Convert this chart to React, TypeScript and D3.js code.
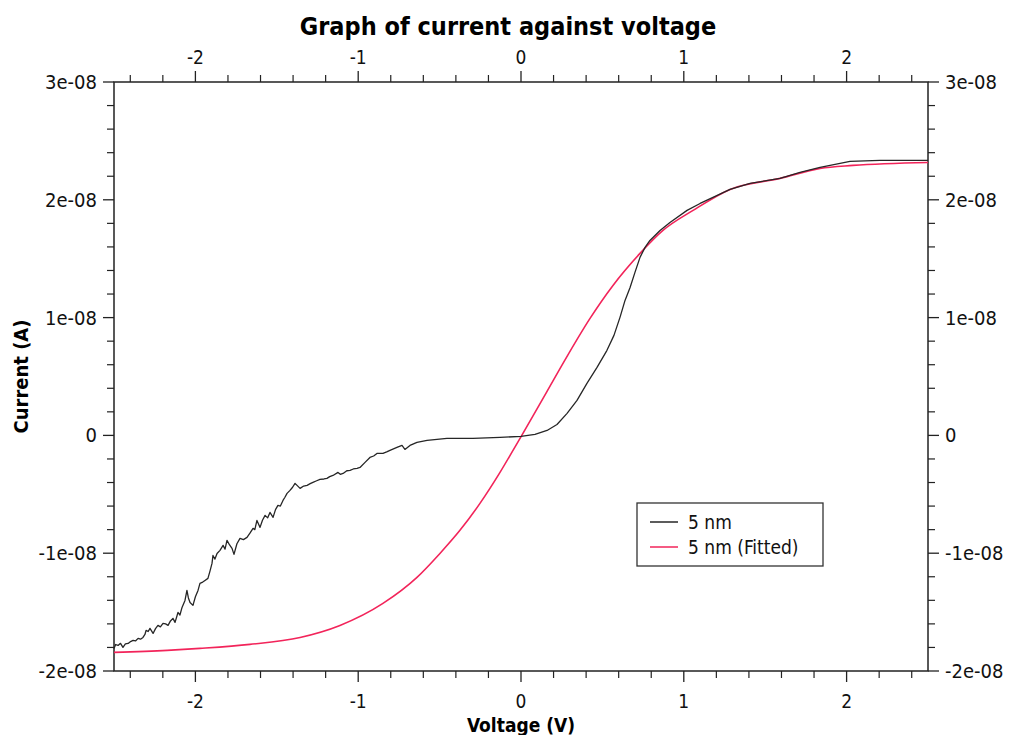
import React from 'react';
import * as d3 from 'd3';

// measured I-V sweep (current in units of 1e-8 A)
const measuredV = [
  -2.5, -2.49, -2.475, -2.46, -2.445, -2.43, -2.413, -2.398, -2.383, -2.368,
  -2.352, -2.337, -2.322, -2.31, -2.303, -2.29, -2.279, -2.26, -2.245, -2.23,
  -2.215, -2.199, -2.183, -2.168, -2.153, -2.138, -2.125, -2.107, -2.095, -2.082,
  -2.064, -2.052, -2.043, -2.033, -2.015, -2.0, -1.984, -1.972, -1.955, -1.941,
  -1.923, -1.91, -1.898, -1.892, -1.88, -1.867, -1.849, -1.83, -1.818, -1.806,
  -1.79, -1.775, -1.763, -1.745, -1.726, -1.705, -1.683, -1.665, -1.646, -1.635,
  -1.622, -1.603, -1.588, -1.572, -1.556, -1.542, -1.523, -1.508, -1.493, -1.478,
  -1.462, -1.45, -1.437, -1.419, -1.403, -1.388, -1.357, -1.335, -1.314, -1.295,
  -1.278, -1.255, -1.235, -1.21, -1.192, -1.175, -1.155, -1.124, -1.11, -1.093,
  -1.07, -1.05, -1.03, -1.007, -0.989, -0.958, -0.928, -0.905, -0.885, -0.848,
  -0.825, -0.805, -0.762, -0.731, -0.713, -0.682, -0.639, -0.577, -0.516, -0.455,
  -0.393, -0.295, -0.129, 0, 0.086, 0.16, 0.221, 0.283, 0.344, 0.405,
  0.467, 0.528, 0.571, 0.608, 0.639, 0.67, 0.7, 0.731, 0.762, 0.792,
  0.854, 0.915, 1.02, 1.1, 1.179, 1.284, 1.407, 1.591, 1.714, 1.837,
  2.021, 2.205, 2.5,
];
const measuredI = [
  -1.81, -1.775, -1.783, -1.765, -1.8, -1.77, -1.766, -1.75, -1.74, -1.745,
  -1.723, -1.73, -1.715, -1.69, -1.655, -1.665, -1.638, -1.681, -1.64, -1.613,
  -1.625, -1.596, -1.6, -1.613, -1.575, -1.553, -1.587, -1.503, -1.525, -1.46,
  -1.401, -1.316, -1.38, -1.418, -1.443, -1.37, -1.316, -1.256, -1.245, -1.231,
  -1.214, -1.15, -1.087, -1.019, -1.05, -1.002, -0.976, -0.934, -0.965, -0.891,
  -0.93, -0.959, -1.01, -0.92, -0.874, -0.885, -0.866, -0.83, -0.789, -0.8,
  -0.722, -0.781, -0.72, -0.679, -0.7, -0.654, -0.696, -0.63, -0.594, -0.6,
  -0.552, -0.525, -0.492, -0.467, -0.44, -0.407, -0.45, -0.43, -0.424, -0.41,
  -0.399, -0.385, -0.374, -0.37, -0.365, -0.35, -0.34, -0.314, -0.33, -0.323,
  -0.3, -0.297, -0.285, -0.28, -0.272, -0.229, -0.187, -0.175, -0.153, -0.153,
  -0.14, -0.127, -0.102, -0.085, -0.119, -0.085, -0.059, -0.042, -0.034, -0.025,
  -0.025, -0.025, -0.017, -0.008, 0.008, 0.042, 0.093, 0.187, 0.297, 0.441,
  0.577, 0.722, 0.849, 1.002, 1.146, 1.256, 1.384, 1.511, 1.596, 1.655,
  1.74, 1.808, 1.91, 1.969, 2.02, 2.088, 2.139, 2.182, 2.233, 2.275,
  2.326, 2.334, 2.334,
];

// fitted curve
const fittedV = [
  -2.5, -2.174, -1.972, -1.665, -1.357, -1.112, -0.848, -0.639, -0.498, -0.375,
  -0.252, -0.129, -0.049, 0.012, 0.16, 0.283, 0.424, 0.565, 0.731, 0.872,
  1.057, 1.284, 1.591, 1.837, 2.039, 2.5,
];
const fittedI = [
  -1.842, -1.825, -1.808, -1.774, -1.715, -1.613, -1.426, -1.205, -1.002, -0.806,
  -0.577, -0.314, -0.127, 0.017, 0.374, 0.671, 0.993, 1.273, 1.545, 1.74,
  1.91, 2.088, 2.182, 2.267, 2.292, 2.317,
];

const seriesNames = ['5 nm', '5 nm (Fitted)'];
const seriesColors = ['#262626', '#f2245a'];
const xTicks = [-2, -1, 0, 1, 2];
const yTicks = [-2e-8, -1e-8, 0, 1e-8, 2e-8, 3e-8];

const FONT = "'DejaVu Sans Condensed', 'DejaVu Sans', sans-serif";
const AXIS = '#222';

const fmtX = (v: number) => d3.format('d')(v).replace('−', '-');
const fmtY = (v: number) =>
  v === 0 ? '0' : d3.format('.0e')(v).replace('−', '-').replace(/e([+-])(\d)$/, 'e$10$2');

export default function App() {
  const left = 114, right = 928, top = 82, bottom = 671;
  const x = d3.scaleLinear().domain([-2.5, 2.5]).range([left, right]);
  const y = d3.scaleLinear().domain([-2e-8, 3e-8]).range([bottom, top]);

  const line = d3.line<[number, number]>().x(d => x(d[0])).y(d => y(d[1] * 1e-8));
  const measured = measuredV.map((v, i) => [v, measuredI[i]] as [number, number]);
  const fitted = fittedV.map((v, i) => [v, fittedI[i]] as [number, number]);
  const measuredPath = line.curve(d3.curveLinear)(measured) || '';
  const fittedPath = line.curve(d3.curveMonotoneX)(fitted) || '';

  const xMinor = d3.range(-24, 25, 2).map(v => v / 10).filter(v => Math.abs(v - Math.round(v)) > 1e-9);
  const yMinor = d3.range(-20, 31, 2).map(v => v / 10 * 1e-8).filter(v => Math.abs(v / 1e-8 - Math.round(v / 1e-8)) > 1e-9);

  const maj = 11, mnr = 7;

  return (
    <svg width={1011} height={735} style={{ position: 'absolute', left: 0, top: 0, background: '#fff' }}
      fontFamily={FONT}>
      <text x={508} y={35} textAnchor="middle" fontSize={25} fontWeight="bold" fill="#000">
        Graph of current against voltage
      </text>

      {/* plot frame */}
      <rect x={left} y={top} width={right - left} height={bottom - top} fill="none" stroke={AXIS} strokeWidth={1.5} />

      {/* x ticks, top and bottom */}
      {xTicks.map(t => (
        <g key={'xt' + t}>
          <line x1={x(t)} x2={x(t)} y1={top} y2={top - maj} stroke={AXIS} strokeWidth={1.3} />
          <line x1={x(t)} x2={x(t)} y1={bottom} y2={bottom + maj} stroke={AXIS} strokeWidth={1.3} />
          <text x={x(t)} y={64} textAnchor="middle" fontSize={19} fill="#111">{fmtX(t)}</text>
          <text x={x(t)} y={708} textAnchor="middle" fontSize={19} fill="#111">{fmtX(t)}</text>
        </g>
      ))}
      {xMinor.map(t => (
        <g key={'xm' + t}>
          <line x1={x(t)} x2={x(t)} y1={top} y2={top - mnr} stroke={AXIS} strokeWidth={1.2} />
          <line x1={x(t)} x2={x(t)} y1={bottom} y2={bottom + mnr} stroke={AXIS} strokeWidth={1.2} />
        </g>
      ))}

      {/* y ticks, left and right */}
      {yTicks.map(t => (
        <g key={'yt' + t}>
          <line x1={left} x2={left - maj} y1={y(t)} y2={y(t)} stroke={AXIS} strokeWidth={1.3} />
          <line x1={right} x2={right + maj} y1={y(t)} y2={y(t)} stroke={AXIS} strokeWidth={1.3} />
          <text x={97} y={y(t)} dy="0.35em" textAnchor="end" fontSize={20} fill="#111">{fmtY(t)}</text>
          <text x={945} y={y(t)} dy="0.35em" textAnchor="start" fontSize={20} fill="#111">{fmtY(t)}</text>
        </g>
      ))}
      {yMinor.map(t => (
        <g key={'ym' + t}>
          <line x1={left} x2={left - mnr} y1={y(t)} y2={y(t)} stroke={AXIS} strokeWidth={1.2} />
          <line x1={right} x2={right + mnr} y1={y(t)} y2={y(t)} stroke={AXIS} strokeWidth={1.2} />
        </g>
      ))}

      {/* series */}
      <path d={fittedPath} fill="none" stroke={seriesColors[1]} strokeWidth={1.6} />
      <path d={measuredPath} fill="none" stroke={seriesColors[0]} strokeWidth={1.3} strokeLinejoin="round" />

      {/* axis titles */}
      <text x={521} y={732} textAnchor="middle" fontSize={19} fontWeight="bold" fill="#000">Voltage (V)</text>
      <text transform={`translate(28,${(top + bottom) / 2}) rotate(-90)`} textAnchor="middle" fontSize={20}
        fontWeight="bold" fill="#000">Current (A)</text>

      {/* legend */}
      <g>
        <rect x={637} y={503} width={186} height={63} fill="#fff" stroke="#333" strokeWidth={1.3} />
        {seriesNames.map((n, i) => (
          <g key={n}>
            <line x1={650} x2={678} y1={522 + i * 25} y2={522 + i * 25} stroke={seriesColors[i]} strokeWidth={1.5} />
            <text x={688} y={522 + i * 25} dy="0.35em" fontSize={19} fill="#111">{n}</text>
          </g>
        ))}
      </g>
    </svg>
  );
}
